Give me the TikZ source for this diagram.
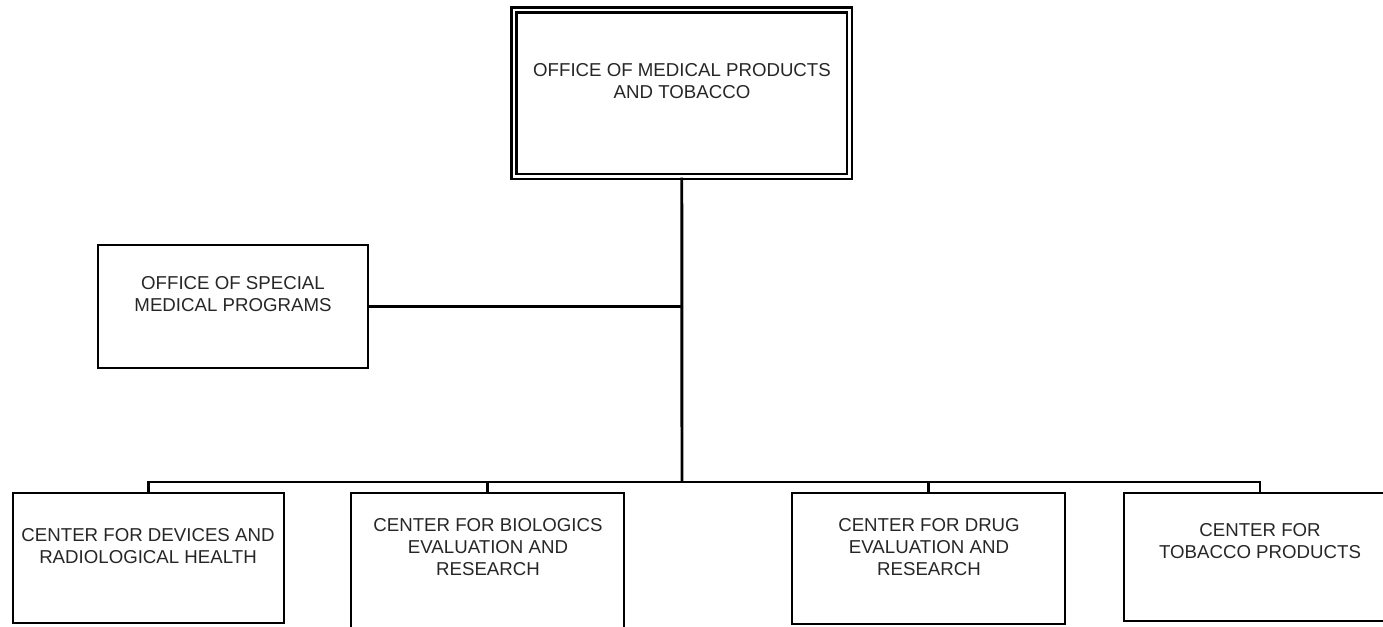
\documentclass[tikz,border=0pt]{standalone}
\usepackage{fontspec}
\setmainfont{Liberation Sans}
\usetikzlibrary{positioning}

\begin{document}
\begin{tikzpicture}[x=.75pt,y=-.75pt,line width=1.5pt,
  unit/.style={draw,inner sep=0pt,minimum width=204pt},
  lbl/.style={anchor=center,inner sep=0pt,align=center,text=black!85,font=\fontsize{14}{16.5}\selectfont},
  link/.style={line width=1.6pt}]
\path[use as bounding box] (0,0) rectangle (1383,626);
\clip (0,0) rectangle (1383,626);
\node[unit,double,line width=1.8pt,double distance=2pt,minimum width=251.6pt,minimum height=124.9pt] (ompt) at (681.75,93.25) {};
\node[lbl] (omptT) at (682,81) {OFFICE OF MEDICAL PRODUCTS\\AND TOBACCO};
\node[unit,minimum width=202.5pt,minimum height=92.25pt] (osmp) at (233,306.5) {};
\node[lbl] (osmpT) at (233,294) {OFFICE OF SPECIAL\\MEDICAL PROGRAMS};
\node[unit,minimum width=203.25pt,minimum height=97.5pt] (cdrh) at (148.5,558) {};
\node[lbl] (cdrhT) at (148,546) {CENTER FOR DEVICES AND\\RADIOLOGICAL HEALTH};
\node[unit,minimum width=204.75pt,minimum height=104.25pt] (cber) at (487.5,562.5) {};
\node[lbl] (cberT) at (488,547) {CENTER FOR BIOLOGICS\\EVALUATION AND\\RESEARCH};
\node[unit,minimum width=204.75pt,minimum height=98.25pt] (cder) at (928.5,558.5) {};
\node[lbl] (cderT) at (929,547) {CENTER FOR DRUG\\EVALUATION AND\\RESEARCH};
\node[unit,minimum width=204pt,minimum height=96pt] (ctp) at (1260,557) {};
\node[lbl] (ctpT) at (1260,541) {CENTER FOR\\TOBACCO PRODUCTS};
\coordinate (bus) at (682,482);
\draw[line width=2.2pt] (ompt.south) -- (bus);
\draw[link] (osmp.east) -- (osmp.east -| bus);
\draw[link] (cdrh.north) |- (ctp.north |- bus) -- (ctp.north);
\draw[link] (cber.north) -- (cber.north |- bus);
\draw[link] (cder.north) -- (cder.north |- bus);
\end{tikzpicture}
\end{document}
